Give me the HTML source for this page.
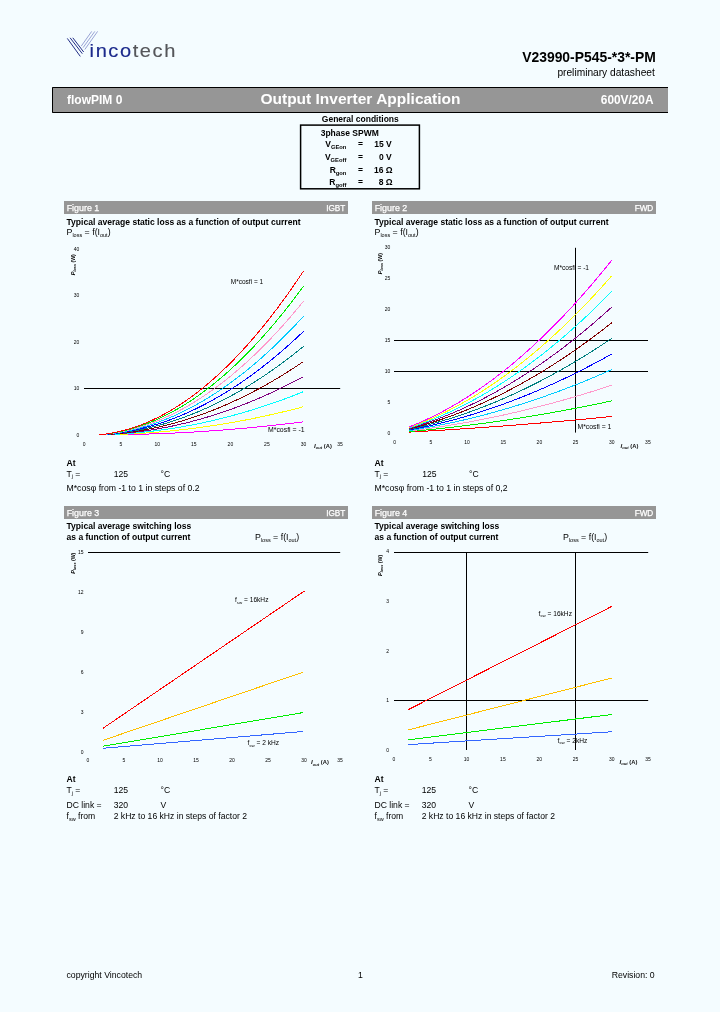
<!DOCTYPE html><html><head><meta charset="utf-8"><title>V23990-P545-*3*-PM</title>
<style>html,body{margin:0;padding:0;background:#f4fcff;}body{width:720px;height:1012px;overflow:hidden;position:relative;font-family:"Liberation Sans",sans-serif;}svg{position:absolute;left:0;top:0;will-change:transform;font-family:"Liberation Sans",sans-serif;}text{white-space:pre;}</style></head><body>
<svg width="720" height="1012" viewBox="0 0 720 1012">
<rect x="0" y="0" width="720" height="1012" fill="#f4fcff"/>
<g id="logo">
<g stroke="#17237f" stroke-width="0.95" fill="none" stroke-linecap="butt">
<line x1="67.3" y1="38.4" x2="80.3" y2="56.4"/>
<line x1="70.1" y1="37.8" x2="82.3" y2="53.7"/>
<line x1="72.8" y1="37.8" x2="83.7" y2="52.0"/>
</g>
<g stroke="#5a67b8" stroke-width="0.6" fill="none" stroke-linecap="butt">
<line x1="81.2" y1="46.2" x2="91.7" y2="31.4"/>
<line x1="83.1" y1="47.6" x2="94.8" y2="31.4"/>
<line x1="84.8" y1="49.5" x2="97.6" y2="31.4"/>
</g>
<text transform="translate(89.6,57.3) scale(1.1,1)" font-size="18.2" letter-spacing="1.45" stroke-width="0.15" paint-order="stroke"><tspan fill="#1c2a8c" stroke="#1c2a8c">inco</tspan><tspan fill="#55565a" stroke="#55565a">tech</tspan></text>
</g>
<text x="655.8" y="62.1" font-size="13.9" font-weight="bold" text-anchor="end" fill="#000" >V23990-P545-*3*-PM</text>
<text x="654.8" y="76.0" font-size="10.2" font-weight="normal" text-anchor="end" fill="#000" >preliminary datasheet</text>
<rect x="52" y="87" width="616" height="26" fill="#969696"/>
<path d="M668,87.5 H52.5 V112.5 H668" fill="none" stroke="#000" stroke-width="1"/>
<text x="67" y="103.8" font-size="12" font-weight="bold" text-anchor="start" fill="#fff" >flowPIM 0</text>
<text x="360.5" y="104.4" font-size="15.5" font-weight="bold" text-anchor="middle" fill="#fff" >Output Inverter Application</text>
<text x="653.5" y="103.7" font-size="11.85" font-weight="bold" text-anchor="end" fill="#fff" >600V/20A</text>
<text x="360.3" y="121.7" font-size="8.5" font-weight="bold" text-anchor="middle" fill="#000" >General conditions</text>
<rect x="300.6" y="125.1" width="118.8" height="63.7" fill="none" stroke="#000" stroke-width="1.5"/>
<text x="320.7" y="135.7" font-size="8.5" font-weight="bold" text-anchor="start" fill="#000" >3phase SPWM</text>
<text x="346.4" y="147.0" font-size="8.5" font-weight="bold" text-anchor="end" fill="#000" >V<tspan font-size="5.8" dy="2.2">GEon</tspan></text>
<text x="360.5" y="147.0" font-size="8.5" font-weight="bold" text-anchor="middle" fill="#000" >=</text>
<text x="391.8" y="147.0" font-size="8.5" font-weight="bold" text-anchor="end" fill="#000" >15 V</text>
<text x="346.4" y="159.5" font-size="8.5" font-weight="bold" text-anchor="end" fill="#000" >V<tspan font-size="5.8" dy="2.2">GEoff</tspan></text>
<text x="360.5" y="159.5" font-size="8.5" font-weight="bold" text-anchor="middle" fill="#000" >=</text>
<text x="391.8" y="159.5" font-size="8.5" font-weight="bold" text-anchor="end" fill="#000" >0 V</text>
<text x="346.4" y="172.6" font-size="8.5" font-weight="bold" text-anchor="end" fill="#000" >R<tspan font-size="5.8" dy="2.2">gon</tspan></text>
<text x="360.5" y="172.6" font-size="8.5" font-weight="bold" text-anchor="middle" fill="#000" >=</text>
<text x="392.6" y="172.6" font-size="8.5" font-weight="bold" text-anchor="end" fill="#000" >16 Ω</text>
<text x="346.4" y="184.5" font-size="8.5" font-weight="bold" text-anchor="end" fill="#000" >R<tspan font-size="5.8" dy="2.2">goff</tspan></text>
<text x="360.5" y="184.5" font-size="8.5" font-weight="bold" text-anchor="middle" fill="#000" >=</text>
<text x="392.6" y="184.5" font-size="8.5" font-weight="bold" text-anchor="end" fill="#000" >8 Ω</text>
<rect x="64" y="201" width="284" height="13" fill="#969696"/>
<text x="66.7" y="211.0" font-size="8.9" font-weight="normal" text-anchor="start" fill="#fff" stroke="#fff" stroke-width="0.25">Figure 1</text>
<text x="345.3" y="211.0" font-size="8.2" font-weight="normal" text-anchor="end" fill="#fff" stroke="#fff" stroke-width="0.25">IGBT</text>
<text x="66.5" y="224.5" font-size="8.55" font-weight="bold" text-anchor="start" fill="#000" >Typical average static loss as a function of output current</text>
<text x="66.5" y="235.2" font-size="8.8" font-weight="normal" text-anchor="start" fill="#000" >P<tspan font-size="5.5" dy="1.6">loss</tspan><tspan dy="-1.6"> = f(I</tspan><tspan font-size="5.5" dy="1.6">out</tspan><tspan dy="-1.6">)</tspan></text>
<line x1="84.0" y1="388.5" x2="340.2" y2="388.5" stroke="#000" stroke-width="1.0"/>
<polyline points="98.82,434.80 102.47,434.80 106.13,434.78 109.78,434.76 113.44,434.73 117.09,434.70 120.75,434.65 124.41,434.60 128.06,434.53 131.72,434.46 135.37,434.38 139.03,434.30 142.68,434.20 146.34,434.10 149.99,433.99 153.64,433.87 157.30,433.74 160.95,433.60 164.61,433.46 168.26,433.30 171.92,433.14 175.57,432.97 179.23,432.79 182.88,432.60 186.54,432.41 190.19,432.21 193.85,431.99 197.50,431.77 201.16,431.55 204.81,431.31 208.47,431.06 212.12,430.81 215.78,430.55 219.44,430.28 223.09,430.00 226.75,429.72 230.40,429.42 234.06,429.12 237.71,428.81 241.37,428.49 245.02,428.16 248.68,427.82 252.33,427.48 255.99,427.13 259.64,426.77 263.30,426.40 266.95,426.02 270.61,425.63 274.26,425.24 277.92,424.84 281.57,424.42 285.22,424.01 288.88,423.58 292.53,423.14 296.19,422.70 299.84,422.25 303.50,421.79" fill="none" stroke="#ff00ff" stroke-width="1.0" stroke-linejoin="round" shape-rendering="crispEdges"/>
<polyline points="98.82,434.80 102.47,434.76 106.13,434.70 109.78,434.63 113.44,434.54 117.09,434.43 120.75,434.30 124.41,434.16 128.06,434.00 131.72,433.83 135.37,433.64 139.03,433.43 142.68,433.20 146.34,432.96 149.99,432.70 153.64,432.43 157.30,432.14 160.95,431.83 164.61,431.50 168.26,431.16 171.92,430.80 175.57,430.42 179.23,430.03 182.88,429.62 186.54,429.20 190.19,428.75 193.85,428.29 197.50,427.82 201.16,427.32 204.81,426.81 208.47,426.29 212.12,425.74 215.78,425.18 219.44,424.61 223.09,424.01 226.75,423.40 230.40,422.78 234.06,422.13 237.71,421.47 241.37,420.79 245.02,420.10 248.68,419.39 252.33,418.66 255.99,417.92 259.64,417.16 263.30,416.38 266.95,415.58 270.61,414.77 274.26,413.95 277.92,413.10 281.57,412.24 285.22,411.36 288.88,410.47 292.53,409.55 296.19,408.63 299.84,407.68 303.50,406.72" fill="none" stroke="#ffff00" stroke-width="1.0" stroke-linejoin="round" shape-rendering="crispEdges"/>
<polyline points="98.82,434.80 102.47,434.72 106.13,434.62 109.78,434.49 113.44,434.34 117.09,434.16 120.75,433.96 124.41,433.73 128.06,433.47 131.72,433.19 135.37,432.89 139.03,432.56 142.68,432.20 146.34,431.82 149.99,431.42 153.64,430.99 157.30,430.53 160.95,430.05 164.61,429.55 168.26,429.02 171.92,428.46 175.57,427.88 179.23,427.27 182.88,426.64 186.54,425.98 190.19,425.30 193.85,424.59 197.50,423.86 201.16,423.10 204.81,422.32 208.47,421.51 212.12,420.68 215.78,419.82 219.44,418.93 223.09,418.02 226.75,417.09 230.40,416.13 234.06,415.15 237.71,414.14 241.37,413.10 245.02,412.04 248.68,410.96 252.33,409.84 255.99,408.71 259.64,407.55 263.30,406.36 266.95,405.15 270.61,403.91 274.26,402.65 277.92,401.37 281.57,400.05 285.22,398.72 288.88,397.35 292.53,395.97 296.19,394.55 299.84,393.11 303.50,391.65" fill="none" stroke="#00ffff" stroke-width="1.0" stroke-linejoin="round" shape-rendering="crispEdges"/>
<polyline points="98.82,434.80 102.47,434.69 106.13,434.54 109.78,434.36 113.44,434.14 117.09,433.89 120.75,433.61 124.41,433.29 128.06,432.94 131.72,432.56 135.37,432.14 139.03,431.69 142.68,431.21 146.34,430.69 149.99,430.14 153.64,429.55 157.30,428.93 160.95,428.28 164.61,427.59 168.26,426.87 171.92,426.12 175.57,425.33 179.23,424.51 182.88,423.66 186.54,422.77 190.19,421.85 193.85,420.89 197.50,419.90 201.16,418.88 204.81,417.82 208.47,416.73 212.12,415.61 215.78,414.45 219.44,413.26 223.09,412.04 226.75,410.78 230.40,409.49 234.06,408.16 237.71,406.80 241.37,405.41 245.02,403.98 248.68,402.52 252.33,401.03 255.99,399.50 259.64,397.94 263.30,396.34 266.95,394.72 270.61,393.05 274.26,391.36 277.92,389.63 281.57,387.87 285.22,386.07 288.88,384.24 292.53,382.38 296.19,380.48 299.84,378.55 303.50,376.58" fill="none" stroke="#800080" stroke-width="1.0" stroke-linejoin="round" shape-rendering="crispEdges"/>
<polyline points="98.82,434.80 102.47,434.65 106.13,434.46 109.78,434.22 113.44,433.94 117.09,433.62 120.75,433.26 124.41,432.86 128.06,432.41 131.72,431.92 135.37,431.39 139.03,430.82 142.68,430.21 146.34,429.55 149.99,428.85 153.64,428.11 157.30,427.33 160.95,426.51 164.61,425.64 168.26,424.73 171.92,423.78 175.57,422.79 179.23,421.75 182.88,420.67 186.54,419.55 190.19,418.39 193.85,417.19 197.50,415.94 201.16,414.66 204.81,413.33 208.47,411.95 212.12,410.54 215.78,409.08 219.44,407.59 223.09,406.05 226.75,404.46 230.40,402.84 234.06,401.17 237.71,399.47 241.37,397.71 245.02,395.92 248.68,394.09 252.33,392.21 255.99,390.29 259.64,388.33 263.30,386.33 266.95,384.28 270.61,382.20 274.26,380.07 277.92,377.89 281.57,375.68 285.22,373.43 288.88,371.13 292.53,368.79 296.19,366.41 299.84,363.98 303.50,361.52" fill="none" stroke="#800000" stroke-width="1.0" stroke-linejoin="round" shape-rendering="crispEdges"/>
<polyline points="98.82,434.80 102.47,434.61 106.13,434.37 109.78,434.08 113.44,433.74 117.09,433.35 120.75,432.91 124.41,432.42 128.06,431.88 131.72,431.29 135.37,430.65 139.03,429.95 142.68,429.21 146.34,428.41 149.99,427.57 153.64,426.67 157.30,425.73 160.95,424.73 164.61,423.68 168.26,422.59 171.92,421.44 175.57,420.24 179.23,418.99 182.88,417.69 186.54,416.34 190.19,414.94 193.85,413.49 197.50,411.99 201.16,410.43 204.81,408.83 208.47,407.18 212.12,405.47 215.78,403.72 219.44,401.91 223.09,400.06 226.75,398.15 230.40,396.20 234.06,394.19 237.71,392.13 241.37,390.02 245.02,387.86 248.68,385.65 252.33,383.39 255.99,381.08 259.64,378.72 263.30,376.31 266.95,373.85 270.61,371.34 274.26,368.77 277.92,366.16 281.57,363.50 285.22,360.78 288.88,358.02 292.53,355.20 296.19,352.33 299.84,349.42 303.50,346.45" fill="none" stroke="#008080" stroke-width="1.0" stroke-linejoin="round" shape-rendering="crispEdges"/>
<polyline points="98.82,434.80 102.47,434.58 106.13,434.29 109.78,433.95 113.44,433.55 117.09,433.09 120.75,432.57 124.41,431.99 128.06,431.35 131.72,430.65 135.37,429.90 139.03,429.08 142.68,428.21 146.34,427.28 149.99,426.29 153.64,425.24 157.30,424.13 160.95,422.96 164.61,421.73 168.26,420.44 171.92,419.10 175.57,417.69 179.23,416.23 182.88,414.71 186.54,413.13 190.19,411.49 193.85,409.79 197.50,408.03 201.16,406.21 204.81,404.33 208.47,402.40 212.12,400.41 215.78,398.35 219.44,396.24 223.09,394.07 226.75,391.84 230.40,389.55 234.06,387.20 237.71,384.79 241.37,382.33 245.02,379.80 248.68,377.22 252.33,374.58 255.99,371.87 259.64,369.11 263.30,366.29 266.95,363.41 270.61,360.48 274.26,357.48 277.92,354.42 281.57,351.31 285.22,348.14 288.88,344.90 292.53,341.61 296.19,338.26 299.84,334.85 303.50,331.38" fill="none" stroke="#0000ff" stroke-width="1.0" stroke-linejoin="round" shape-rendering="crispEdges"/>
<polyline points="98.82,434.80 102.47,434.54 106.13,434.21 109.78,433.81 113.44,433.35 117.09,432.82 120.75,432.22 124.41,431.55 128.06,430.82 131.72,430.02 135.37,429.15 139.03,428.21 142.68,427.21 146.34,426.14 149.99,425.00 153.64,423.80 157.30,422.52 160.95,421.18 164.61,419.78 168.26,418.30 171.92,416.76 175.57,415.15 179.23,413.47 182.88,411.72 186.54,409.91 190.19,408.03 193.85,406.09 197.50,404.07 201.16,401.99 204.81,399.84 208.47,397.62 212.12,395.34 215.78,392.99 219.44,390.57 223.09,388.08 226.75,385.53 230.40,382.90 234.06,380.22 237.71,377.46 241.37,374.64 245.02,371.74 248.68,368.79 252.33,365.76 255.99,362.67 259.64,359.50 263.30,356.28 266.95,352.98 270.61,349.62 274.26,346.19 277.92,342.69 281.57,339.12 285.22,335.49 288.88,331.79 292.53,328.02 296.19,324.19 299.84,320.28 303.50,316.31" fill="none" stroke="#00ccff" stroke-width="1.0" stroke-linejoin="round" shape-rendering="crispEdges"/>
<polyline points="98.82,434.80 102.47,434.50 106.13,434.13 109.78,433.68 113.44,433.15 117.09,432.55 120.75,431.87 124.41,431.12 128.06,430.29 131.72,429.38 135.37,428.40 139.03,427.35 142.68,426.21 146.34,425.00 149.99,423.72 153.64,422.36 157.30,420.92 160.95,419.41 164.61,417.82 168.26,416.16 171.92,414.42 175.57,412.60 179.23,410.71 182.88,408.74 186.54,406.70 190.19,404.58 193.85,402.38 197.50,400.11 201.16,397.77 204.81,395.34 208.47,392.84 212.12,390.27 215.78,387.62 219.44,384.89 223.09,382.09 226.75,379.21 230.40,376.26 234.06,373.23 237.71,370.12 241.37,366.94 245.02,363.68 248.68,360.35 252.33,356.94 255.99,353.46 259.64,349.90 263.30,346.26 266.95,342.55 270.61,338.76 274.26,334.89 277.92,330.95 281.57,326.94 285.22,322.85 288.88,318.68 292.53,314.43 296.19,310.11 299.84,305.72 303.50,301.25" fill="none" stroke="#ff99cc" stroke-width="1.0" stroke-linejoin="round" shape-rendering="crispEdges"/>
<polyline points="98.82,434.80 102.47,434.46 106.13,434.05 109.78,433.54 113.44,432.95 117.09,432.28 120.75,431.52 124.41,430.68 128.06,429.76 131.72,428.75 135.37,427.65 139.03,426.48 142.68,425.21 146.34,423.87 149.99,422.44 153.64,420.92 157.30,419.32 160.95,417.64 164.61,415.87 168.26,414.01 171.92,412.08 175.57,410.06 179.23,407.95 182.88,405.76 186.54,403.48 190.19,401.13 193.85,398.68 197.50,396.16 201.16,393.54 204.81,390.85 208.47,388.07 212.12,385.20 215.78,382.25 219.44,379.22 223.09,376.10 226.75,372.90 230.40,369.61 234.06,366.24 237.71,362.79 241.37,359.25 245.02,355.63 248.68,351.92 252.33,348.13 255.99,344.25 259.64,340.29 263.30,336.24 266.95,332.11 270.61,327.90 274.26,323.60 277.92,319.22 281.57,314.75 285.22,310.20 288.88,305.56 292.53,300.85 296.19,296.04 299.84,291.15 303.50,286.18" fill="none" stroke="#00ee00" stroke-width="1.0" stroke-linejoin="round" shape-rendering="crispEdges"/>
<polyline points="98.82,434.80 102.47,434.43 106.13,433.96 109.78,433.41 113.44,432.76 117.09,432.01 120.75,431.18 124.41,430.25 128.06,429.23 131.72,428.11 135.37,426.91 139.03,425.61 142.68,424.21 146.34,422.73 149.99,421.15 153.64,419.48 157.30,417.72 160.95,415.86 164.61,413.91 168.26,411.87 171.92,409.74 175.57,407.51 179.23,405.19 182.88,402.78 186.54,400.27 190.19,397.67 193.85,394.98 197.50,392.20 201.16,389.32 204.81,386.35 208.47,383.29 212.12,380.13 215.78,376.89 219.44,373.55 223.09,370.11 226.75,366.59 230.40,362.97 234.06,359.26 237.71,355.45 241.37,351.56 245.02,347.57 248.68,343.48 252.33,339.31 255.99,335.04 259.64,330.68 263.30,326.23 266.95,321.68 270.61,317.04 274.26,312.31 277.92,307.48 281.57,302.57 285.22,297.56 288.88,292.45 292.53,287.26 296.19,281.97 299.84,276.59 303.50,271.11" fill="none" stroke="#ff0000" stroke-width="1.0" stroke-linejoin="round" shape-rendering="crispEdges"/>
<text x="79.4" y="436.6" font-size="5.0" font-weight="normal" text-anchor="end" fill="#000" >0</text>
<text x="79.4" y="390.1" font-size="5.0" font-weight="normal" text-anchor="end" fill="#000" >10</text>
<text x="79.4" y="343.6" font-size="5.0" font-weight="normal" text-anchor="end" fill="#000" >20</text>
<text x="79.4" y="297.1" font-size="5.0" font-weight="normal" text-anchor="end" fill="#000" >30</text>
<text x="79.4" y="250.6" font-size="5.0" font-weight="normal" text-anchor="end" fill="#000" >40</text>
<text x="84.2" y="446.0" font-size="5.0" font-weight="normal" text-anchor="middle" fill="#000" >0</text>
<text x="120.8" y="446.0" font-size="5.0" font-weight="normal" text-anchor="middle" fill="#000" >5</text>
<text x="157.3" y="446.0" font-size="5.0" font-weight="normal" text-anchor="middle" fill="#000" >10</text>
<text x="193.8" y="446.0" font-size="5.0" font-weight="normal" text-anchor="middle" fill="#000" >15</text>
<text x="230.4" y="446.0" font-size="5.0" font-weight="normal" text-anchor="middle" fill="#000" >20</text>
<text x="266.9" y="446.0" font-size="5.0" font-weight="normal" text-anchor="middle" fill="#000" >25</text>
<text x="303.5" y="446.0" font-size="5.0" font-weight="normal" text-anchor="middle" fill="#000" >30</text>
<text x="340.1" y="446.0" font-size="5.0" font-weight="normal" text-anchor="middle" fill="#000" >35</text>
<text transform="translate(74.8,275.3) rotate(-90)" font-size="5.6" font-style="italic" font-weight="bold" fill="#000">P<tspan font-size="3.8" dy="1.1">loss</tspan><tspan dy="-1.1" font-style="normal" font-size="5.2"> (W)</tspan></text>
<text x="314.0" y="447.6" font-size="6.2" font-style="italic" font-weight="bold" fill="#111">I<tspan font-size="4.2" dy="1.2">out</tspan><tspan dy="-1.2" font-style="normal" font-size="5.8"> (A)</tspan></text>
<text x="230.8" y="283.8" font-size="6.5" font-weight="normal" text-anchor="start" fill="#000" >M*cosfi = 1</text>
<text x="268" y="432.4" font-size="6.9" font-weight="normal" text-anchor="start" fill="#000" >M*cosfi = -1</text>
<text x="66.5" y="465.6" font-size="8.6" font-weight="bold" text-anchor="start" fill="#000" >At</text>
<text x="66.5" y="476.8" font-size="8.6" font-weight="normal" text-anchor="start" fill="#000" >T<tspan font-size="5.5" dy="1.6">j</tspan><tspan dy="-1.6"> =</tspan></text>
<text x="113.7" y="476.8" font-size="8.6" font-weight="normal" text-anchor="start" fill="#000" >125</text>
<text x="160.5" y="476.8" font-size="8.6" font-weight="normal" text-anchor="start" fill="#000" >°C</text>
<text x="66.5" y="490.9" font-size="8.7" font-weight="normal" text-anchor="start" fill="#000" >M*cosφ from -1 to 1 in steps of 0.2</text>
<rect x="372" y="201" width="284" height="13" fill="#969696"/>
<text x="374.7" y="211.0" font-size="8.9" font-weight="normal" text-anchor="start" fill="#fff" stroke="#fff" stroke-width="0.25">Figure 2</text>
<text x="653.3" y="211.0" font-size="8.2" font-weight="normal" text-anchor="end" fill="#fff" stroke="#fff" stroke-width="0.25">FWD</text>
<text x="374.5" y="224.5" font-size="8.55" font-weight="bold" text-anchor="start" fill="#000" >Typical average static loss as a function of output current</text>
<text x="374.5" y="235.2" font-size="8.8" font-weight="normal" text-anchor="start" fill="#000" >P<tspan font-size="5.5" dy="1.6">loss</tspan><tspan dy="-1.6"> = f(I</tspan><tspan font-size="5.5" dy="1.6">out</tspan><tspan dy="-1.6">)</tspan></text>
<line x1="394.0" y1="340.5" x2="648.0" y2="340.5" stroke="#000" stroke-width="1.0"/>
<line x1="394.0" y1="371.5" x2="648.0" y2="371.5" stroke="#000" stroke-width="1.0"/>
<line x1="575.5" y1="247.8" x2="575.5" y2="432.6" stroke="#000" stroke-width="1.0"/>
<polyline points="409.17,432.08 412.78,431.88 416.40,431.68 420.02,431.48 423.64,431.27 427.25,431.06 430.87,430.85 434.49,430.63 438.10,430.41 441.72,430.19 445.34,429.97 448.95,429.74 452.57,429.51 456.19,429.28 459.81,429.04 463.42,428.80 467.04,428.56 470.66,428.31 474.27,428.06 477.89,427.81 481.51,427.56 485.12,427.30 488.74,427.04 492.36,426.78 495.98,426.52 499.59,426.25 503.21,425.98 506.83,425.70 510.44,425.42 514.06,425.14 517.68,424.86 521.29,424.58 524.91,424.29 528.53,423.99 532.15,423.70 535.76,423.40 539.38,423.10 543.00,422.80 546.61,422.49 550.23,422.18 553.85,421.87 557.46,421.56 561.08,421.24 564.70,420.92 568.32,420.59 571.93,420.27 575.55,419.94 579.17,419.60 582.78,419.27 586.40,418.93 590.02,418.59 593.63,418.25 597.25,417.90 600.87,417.55 604.49,417.20 608.10,416.84 611.72,416.48" fill="none" stroke="#ff0000" stroke-width="1.0" stroke-linejoin="round" shape-rendering="crispEdges"/>
<polyline points="409.17,431.56 412.78,431.24 416.40,430.91 420.02,430.57 423.64,430.23 427.25,429.87 430.87,429.51 434.49,429.14 438.10,428.76 441.72,428.37 445.34,427.98 448.95,427.57 452.57,427.16 456.19,426.74 459.81,426.31 463.42,425.87 467.04,425.43 470.66,424.97 474.27,424.51 477.89,424.04 481.51,423.56 485.12,423.08 488.74,422.58 492.36,422.08 495.98,421.57 499.59,421.05 503.21,420.52 506.83,419.98 510.44,419.44 514.06,418.89 517.68,418.33 521.29,417.76 524.91,417.18 528.53,416.60 532.15,416.00 535.76,415.40 539.38,414.79 543.00,414.17 546.61,413.55 550.23,412.91 553.85,412.27 557.46,411.62 561.08,410.96 564.70,410.29 568.32,409.61 571.93,408.93 575.55,408.24 579.17,407.53 582.78,406.83 586.40,406.11 590.02,405.38 593.63,404.65 597.25,403.91 600.87,403.16 604.49,402.40 608.10,401.63 611.72,400.86" fill="none" stroke="#00ee00" stroke-width="1.0" stroke-linejoin="round" shape-rendering="crispEdges"/>
<polyline points="409.17,431.05 412.78,430.60 416.40,430.14 420.02,429.67 423.64,429.19 427.25,428.69 430.87,428.17 434.49,427.65 438.10,427.11 441.72,426.55 445.34,425.99 448.95,425.40 452.57,424.81 456.19,424.20 459.81,423.58 463.42,422.95 467.04,422.30 470.66,421.64 474.27,420.96 477.89,420.27 481.51,419.57 485.12,418.85 488.74,418.12 492.36,417.38 495.98,416.62 499.59,415.85 503.21,415.07 506.83,414.27 510.44,413.46 514.06,412.63 517.68,411.79 521.29,410.94 524.91,410.08 528.53,409.20 532.15,408.30 535.76,407.40 539.38,406.48 543.00,405.54 546.61,404.60 550.23,403.64 553.85,402.66 557.46,401.68 561.08,400.67 564.70,399.66 568.32,398.63 571.93,397.59 575.55,396.53 579.17,395.46 582.78,394.38 586.40,393.29 590.02,392.18 593.63,391.05 597.25,389.92 600.87,388.77 604.49,387.60 608.10,386.42 611.72,385.23" fill="none" stroke="#ff99cc" stroke-width="1.0" stroke-linejoin="round" shape-rendering="crispEdges"/>
<polyline points="409.17,430.53 412.78,429.96 416.40,429.37 420.02,428.77 423.64,428.14 427.25,427.50 430.87,426.84 434.49,426.15 438.10,425.45 441.72,424.73 445.34,424.00 448.95,423.24 452.57,422.46 456.19,421.67 459.81,420.85 463.42,420.02 467.04,419.17 470.66,418.30 474.27,417.41 477.89,416.50 481.51,415.57 485.12,414.63 488.74,413.66 492.36,412.68 495.98,411.67 499.59,410.65 503.21,409.61 506.83,408.55 510.44,407.47 514.06,406.38 517.68,405.26 521.29,404.13 524.91,402.97 528.53,401.80 532.15,400.61 535.76,399.40 539.38,398.17 543.00,396.92 546.61,395.65 550.23,394.36 553.85,393.06 557.46,391.74 561.08,390.39 564.70,389.03 568.32,387.65 571.93,386.25 575.55,384.83 579.17,383.39 582.78,381.94 586.40,380.46 590.02,378.97 593.63,377.46 597.25,375.92 600.87,374.37 604.49,372.80 608.10,371.22 611.72,369.61" fill="none" stroke="#00ccff" stroke-width="1.0" stroke-linejoin="round" shape-rendering="crispEdges"/>
<polyline points="409.17,430.01 412.78,429.32 416.40,428.60 420.02,427.86 423.64,427.10 427.25,426.31 430.87,425.50 434.49,424.66 438.10,423.80 441.72,422.91 445.34,422.00 448.95,421.07 452.57,420.11 456.19,419.13 459.81,418.12 463.42,417.09 467.04,416.04 470.66,414.96 474.27,413.86 477.89,412.73 481.51,411.58 485.12,410.40 488.74,409.20 492.36,407.98 495.98,406.73 499.59,405.45 503.21,404.16 506.83,402.84 510.44,401.49 514.06,400.12 517.68,398.73 521.29,397.31 524.91,395.87 528.53,394.40 532.15,392.91 535.76,391.39 539.38,389.85 543.00,388.29 546.61,386.70 550.23,385.09 553.85,383.46 557.46,381.79 561.08,380.11 564.70,378.40 568.32,376.67 571.93,374.91 575.55,373.13 579.17,371.32 582.78,369.49 586.40,367.64 590.02,365.76 593.63,363.86 597.25,361.93 600.87,359.98 604.49,358.01 608.10,356.01 611.72,353.98" fill="none" stroke="#0000ff" stroke-width="1.0" stroke-linejoin="round" shape-rendering="crispEdges"/>
<polyline points="409.17,429.49 412.78,428.68 416.40,427.83 420.02,426.96 423.64,426.06 427.25,425.12 430.87,424.16 434.49,423.17 438.10,422.15 441.72,421.09 445.34,420.01 448.95,418.90 452.57,417.76 456.19,416.59 459.81,415.40 463.42,414.17 467.04,412.91 470.66,411.62 474.27,410.30 477.89,408.96 481.51,407.58 485.12,406.17 488.74,404.74 492.36,403.27 495.98,401.78 499.59,400.26 503.21,398.70 506.83,397.12 510.44,395.51 514.06,393.87 517.68,392.19 521.29,390.49 524.91,388.76 528.53,387.00 532.15,385.21 535.76,383.39 539.38,381.54 543.00,379.66 546.61,377.76 550.23,375.82 553.85,373.85 557.46,371.85 561.08,369.83 564.70,367.77 568.32,365.69 571.93,363.57 575.55,361.43 579.17,359.25 582.78,357.05 586.40,354.82 590.02,352.55 593.63,350.26 597.25,347.94 600.87,345.59 604.49,343.21 608.10,340.80 611.72,338.36" fill="none" stroke="#008080" stroke-width="1.0" stroke-linejoin="round" shape-rendering="crispEdges"/>
<polyline points="409.17,428.97 412.78,428.04 416.40,427.06 420.02,426.05 423.64,425.01 427.25,423.93 430.87,422.82 434.49,421.67 438.10,420.49 441.72,419.28 445.34,418.02 448.95,416.74 452.57,415.41 456.19,414.06 459.81,412.67 463.42,411.24 467.04,409.78 470.66,408.28 474.27,406.75 477.89,405.19 481.51,403.59 485.12,401.95 488.74,400.28 492.36,398.57 495.98,396.83 499.59,395.06 503.21,393.25 506.83,391.40 510.44,389.52 514.06,387.61 517.68,385.66 521.29,383.68 524.91,381.66 528.53,379.60 532.15,377.51 535.76,375.39 539.38,373.23 543.00,371.04 546.61,368.81 550.23,366.55 553.85,364.25 557.46,361.91 561.08,359.55 564.70,357.14 568.32,354.71 571.93,352.23 575.55,349.73 579.17,347.18 582.78,344.61 586.40,341.99 590.02,339.35 593.63,336.67 597.25,333.95 600.87,331.20 604.49,328.41 608.10,325.59 611.72,322.73" fill="none" stroke="#800000" stroke-width="1.0" stroke-linejoin="round" shape-rendering="crispEdges"/>
<polyline points="409.17,428.46 412.78,427.39 416.40,426.29 420.02,425.15 423.64,423.97 427.25,422.75 430.87,421.48 434.49,420.18 438.10,418.84 441.72,417.46 445.34,416.03 448.95,414.57 452.57,413.07 456.19,411.52 459.81,409.94 463.42,408.31 467.04,406.65 470.66,404.94 474.27,403.20 477.89,401.41 481.51,399.59 485.12,397.72 488.74,395.82 492.36,393.87 495.98,391.89 499.59,389.86 503.21,387.79 506.83,385.69 510.44,383.54 514.06,381.35 517.68,379.13 521.29,376.86 524.91,374.55 528.53,372.20 532.15,369.82 535.76,367.39 539.38,364.92 543.00,362.41 546.61,359.86 550.23,357.27 553.85,354.64 557.46,351.97 561.08,349.26 564.70,346.51 568.32,343.72 571.93,340.89 575.55,338.02 579.17,335.11 582.78,332.16 586.40,329.17 590.02,326.14 593.63,323.07 597.25,319.96 600.87,316.81 604.49,313.61 608.10,310.38 611.72,307.11" fill="none" stroke="#800080" stroke-width="1.0" stroke-linejoin="round" shape-rendering="crispEdges"/>
<polyline points="409.17,427.94 412.78,426.75 416.40,425.52 420.02,424.25 423.64,422.93 427.25,421.56 430.87,420.15 434.49,418.69 438.10,417.19 441.72,415.64 445.34,414.04 448.95,412.40 452.57,410.72 456.19,408.99 459.81,407.21 463.42,405.39 467.04,403.52 470.66,401.61 474.27,399.65 477.89,397.64 481.51,395.59 485.12,393.50 488.74,391.36 492.36,389.17 495.98,386.94 499.59,384.66 503.21,382.34 506.83,379.97 510.44,377.56 514.06,375.10 517.68,372.59 521.29,370.04 524.91,367.45 528.53,364.80 532.15,362.12 535.76,359.39 539.38,356.61 543.00,353.78 546.61,350.91 550.23,348.00 553.85,345.04 557.46,342.03 561.08,338.98 564.70,335.89 568.32,332.74 571.93,329.56 575.55,326.32 579.17,323.04 582.78,319.72 586.40,316.35 590.02,312.93 593.63,309.47 597.25,305.97 600.87,302.41 604.49,298.82 608.10,295.17 611.72,291.49" fill="none" stroke="#00ffff" stroke-width="1.0" stroke-linejoin="round" shape-rendering="crispEdges"/>
<polyline points="409.17,427.42 412.78,426.11 416.40,424.75 420.02,423.34 423.64,421.88 427.25,420.37 430.87,418.81 434.49,417.20 438.10,415.53 441.72,413.82 445.34,412.05 448.95,410.23 452.57,408.37 456.19,406.45 459.81,404.48 463.42,402.46 467.04,400.39 470.66,398.27 474.27,396.10 477.89,393.87 481.51,391.60 485.12,389.27 488.74,386.90 492.36,384.47 495.98,381.99 499.59,379.46 503.21,376.88 506.83,374.25 510.44,371.57 514.06,368.84 517.68,366.06 521.29,363.23 524.91,360.34 528.53,357.41 532.15,354.42 535.76,351.38 539.38,348.30 543.00,345.16 546.61,341.97 550.23,338.73 553.85,335.44 557.46,332.09 561.08,328.70 564.70,325.26 568.32,321.76 571.93,318.22 575.55,314.62 579.17,310.97 582.78,307.28 586.40,303.53 590.02,299.73 593.63,295.88 597.25,291.97 600.87,288.02 604.49,284.02 608.10,279.97 611.72,275.86" fill="none" stroke="#ffff00" stroke-width="1.0" stroke-linejoin="round" shape-rendering="crispEdges"/>
<polyline points="409.17,426.90 412.78,425.47 416.40,423.98 420.02,422.44 423.64,420.84 427.25,419.18 430.87,417.47 434.49,415.70 438.10,413.88 441.72,412.00 445.34,410.06 448.95,408.07 452.57,406.02 456.19,403.91 459.81,401.75 463.42,399.53 467.04,397.26 470.66,394.93 474.27,392.54 477.89,390.10 481.51,387.60 485.12,385.05 488.74,382.44 492.36,379.77 495.98,377.05 499.59,374.27 503.21,371.43 506.83,368.54 510.44,365.59 514.06,362.59 517.68,359.53 521.29,356.41 524.91,353.24 528.53,350.01 532.15,346.72 535.76,343.38 539.38,339.98 543.00,336.53 546.61,333.02 550.23,329.45 553.85,325.83 557.46,322.15 561.08,318.42 564.70,314.63 568.32,310.78 571.93,306.88 575.55,302.92 579.17,298.90 582.78,294.83 586.40,290.70 590.02,286.52 593.63,282.28 597.25,277.98 600.87,273.63 604.49,269.22 608.10,264.76 611.72,260.24" fill="none" stroke="#ff00ff" stroke-width="1.0" stroke-linejoin="round" shape-rendering="crispEdges"/>
<text x="390.2" y="434.5" font-size="5.0" font-weight="normal" text-anchor="end" fill="#000" >0</text>
<text x="390.2" y="403.6" font-size="5.0" font-weight="normal" text-anchor="end" fill="#000" >5</text>
<text x="390.2" y="372.8" font-size="5.0" font-weight="normal" text-anchor="end" fill="#000" >10</text>
<text x="390.2" y="341.9" font-size="5.0" font-weight="normal" text-anchor="end" fill="#000" >15</text>
<text x="390.2" y="311.1" font-size="5.0" font-weight="normal" text-anchor="end" fill="#000" >20</text>
<text x="390.2" y="280.2" font-size="5.0" font-weight="normal" text-anchor="end" fill="#000" >25</text>
<text x="390.2" y="249.4" font-size="5.0" font-weight="normal" text-anchor="end" fill="#000" >30</text>
<text x="394.7" y="443.5" font-size="5.0" font-weight="normal" text-anchor="middle" fill="#000" >0</text>
<text x="430.9" y="443.5" font-size="5.0" font-weight="normal" text-anchor="middle" fill="#000" >5</text>
<text x="467.0" y="443.5" font-size="5.0" font-weight="normal" text-anchor="middle" fill="#000" >10</text>
<text x="503.2" y="443.5" font-size="5.0" font-weight="normal" text-anchor="middle" fill="#000" >15</text>
<text x="539.4" y="443.5" font-size="5.0" font-weight="normal" text-anchor="middle" fill="#000" >20</text>
<text x="575.5" y="443.5" font-size="5.0" font-weight="normal" text-anchor="middle" fill="#000" >25</text>
<text x="611.7" y="443.5" font-size="5.0" font-weight="normal" text-anchor="middle" fill="#000" >30</text>
<text x="647.9" y="443.5" font-size="5.0" font-weight="normal" text-anchor="middle" fill="#000" >35</text>
<text transform="translate(381.8,274.2) rotate(-90)" font-size="5.6" font-style="italic" font-weight="bold" fill="#000">P<tspan font-size="3.8" dy="1.1">loss</tspan><tspan dy="-1.1" font-style="normal" font-size="5.2"> (W)</tspan></text>
<text x="620.5" y="447.6" font-size="6.2" font-style="italic" font-weight="bold" fill="#111">I<tspan font-size="4.2" dy="1.2">out</tspan><tspan dy="-1.2" font-style="normal" font-size="5.8"> (A)</tspan></text>
<text x="554" y="270.0" font-size="6.6" font-weight="normal" text-anchor="start" fill="#000" >M*cosfi = -1</text>
<text x="577.5" y="428.7" font-size="6.8" font-weight="normal" text-anchor="start" fill="#000" >M*cosfi = 1</text>
<text x="374.5" y="465.6" font-size="8.6" font-weight="bold" text-anchor="start" fill="#000" >At</text>
<text x="374.5" y="476.8" font-size="8.6" font-weight="normal" text-anchor="start" fill="#000" >T<tspan font-size="5.5" dy="1.6">j</tspan><tspan dy="-1.6"> =</tspan></text>
<text x="422.2" y="476.8" font-size="8.6" font-weight="normal" text-anchor="start" fill="#000" >125</text>
<text x="469.0" y="476.8" font-size="8.6" font-weight="normal" text-anchor="start" fill="#000" >°C</text>
<text x="374.5" y="490.9" font-size="8.7" font-weight="normal" text-anchor="start" fill="#000" >M*cosφ from -1 to 1 in steps of 0,2</text>
<rect x="64" y="506" width="284" height="13" fill="#969696"/>
<text x="66.7" y="516.0" font-size="8.9" font-weight="normal" text-anchor="start" fill="#fff" stroke="#fff" stroke-width="0.25">Figure 3</text>
<text x="345.3" y="516.0" font-size="8.2" font-weight="normal" text-anchor="end" fill="#fff" stroke="#fff" stroke-width="0.25">IGBT</text>
<text x="66.5" y="529.2" font-size="8.55" font-weight="bold" text-anchor="start" fill="#000" >Typical average switching loss</text>
<text x="66.5" y="540.0" font-size="8.55" font-weight="bold" text-anchor="start" fill="#000" >as a function of output current</text>
<text x="255" y="540.0" font-size="8.8" font-weight="normal" text-anchor="start" fill="#000" >P<tspan font-size="5.5" dy="1.6">loss</tspan><tspan dy="-1.6"> = f(I</tspan><tspan font-size="5.5" dy="1.6">out</tspan><tspan dy="-1.6">)</tspan></text>
<line x1="88.0" y1="552.5" x2="340.2" y2="552.5" stroke="#000" stroke-width="1.0"/>
<line x1="102.7" y1="728.5" x2="304.4" y2="591.0" stroke="#ff0000" stroke-width="1.0" shape-rendering="crispEdges"/>
<line x1="102.7" y1="740.4" x2="303.0" y2="672.2" stroke="#ffc000" stroke-width="1.0" shape-rendering="crispEdges"/>
<line x1="102.7" y1="746.3" x2="303.0" y2="712.6" stroke="#00ee00" stroke-width="1.0" shape-rendering="crispEdges"/>
<line x1="102.7" y1="748.3" x2="303.5" y2="731.5" stroke="#3366ff" stroke-width="1.0" shape-rendering="crispEdges"/>
<text x="83.5" y="753.5" font-size="5.0" font-weight="normal" text-anchor="end" fill="#000" >0</text>
<text x="83.5" y="713.5" font-size="5.0" font-weight="normal" text-anchor="end" fill="#000" >3</text>
<text x="83.5" y="673.5" font-size="5.0" font-weight="normal" text-anchor="end" fill="#000" >6</text>
<text x="83.5" y="633.5" font-size="5.0" font-weight="normal" text-anchor="end" fill="#000" >9</text>
<text x="83.5" y="593.5" font-size="5.0" font-weight="normal" text-anchor="end" fill="#000" >12</text>
<text x="83.5" y="553.5" font-size="5.0" font-weight="normal" text-anchor="end" fill="#000" >15</text>
<text x="88.0" y="762.3" font-size="5.0" font-weight="normal" text-anchor="middle" fill="#000" >0</text>
<text x="124.0" y="762.3" font-size="5.0" font-weight="normal" text-anchor="middle" fill="#000" >5</text>
<text x="160.0" y="762.3" font-size="5.0" font-weight="normal" text-anchor="middle" fill="#000" >10</text>
<text x="196.0" y="762.3" font-size="5.0" font-weight="normal" text-anchor="middle" fill="#000" >15</text>
<text x="232.0" y="762.3" font-size="5.0" font-weight="normal" text-anchor="middle" fill="#000" >20</text>
<text x="268.0" y="762.3" font-size="5.0" font-weight="normal" text-anchor="middle" fill="#000" >25</text>
<text x="304.0" y="762.3" font-size="5.0" font-weight="normal" text-anchor="middle" fill="#000" >30</text>
<text x="340.0" y="762.3" font-size="5.0" font-weight="normal" text-anchor="middle" fill="#000" >35</text>
<text transform="translate(74.8,573.8) rotate(-90)" font-size="5.6" font-style="italic" font-weight="bold" fill="#000">P<tspan font-size="3.8" dy="1.1">loss</tspan><tspan dy="-1.1" font-style="normal" font-size="5.2"> (W)</tspan></text>
<text x="311.0" y="764.4" font-size="6.2" font-style="italic" font-weight="bold" fill="#111">I<tspan font-size="4.2" dy="1.2">out</tspan><tspan dy="-1.2" font-style="normal" font-size="5.8"> (A)</tspan></text>
<text x="235" y="602.3" font-size="6.6" font-weight="normal" text-anchor="start" fill="#000" >f<tspan font-size="4.4" dy="1.2">sw</tspan><tspan dy="-1.2"> = 16kHz</tspan></text>
<text x="247.5" y="745.4" font-size="6.6" font-weight="normal" text-anchor="start" fill="#000" >f<tspan font-size="4.4" dy="1.2">sw</tspan><tspan dy="-1.2"> = 2 kHz</tspan></text>
<text x="66.5" y="782.4" font-size="8.6" font-weight="bold" text-anchor="start" fill="#000" >At</text>
<text x="66.5" y="793.4" font-size="8.6" font-weight="normal" text-anchor="start" fill="#000" >T<tspan font-size="5.5" dy="1.6">j</tspan><tspan dy="-1.6"> =</tspan></text>
<text x="113.7" y="793.4" font-size="8.6" font-weight="normal" text-anchor="start" fill="#000" >125</text>
<text x="160.5" y="793.4" font-size="8.6" font-weight="normal" text-anchor="start" fill="#000" >°C</text>
<text x="66.5" y="807.8" font-size="8.6" font-weight="normal" text-anchor="start" fill="#000" >DC link =</text>
<text x="113.7" y="807.8" font-size="8.6" font-weight="normal" text-anchor="start" fill="#000" >320</text>
<text x="160.5" y="807.8" font-size="8.6" font-weight="normal" text-anchor="start" fill="#000" >V</text>
<text x="66.5" y="819.4" font-size="8.6" font-weight="normal" text-anchor="start" fill="#000" >f<tspan font-size="5.5" dy="1.6">sw</tspan><tspan dy="-1.6"> from</tspan></text>
<text x="113.7" y="819.4" font-size="8.6" font-weight="normal" text-anchor="start" fill="#000" >2 kHz to 16 kHz in steps of factor 2</text>
<rect x="372" y="506" width="284" height="13" fill="#969696"/>
<text x="374.7" y="516.0" font-size="8.9" font-weight="normal" text-anchor="start" fill="#fff" stroke="#fff" stroke-width="0.25">Figure 4</text>
<text x="653.3" y="516.0" font-size="8.2" font-weight="normal" text-anchor="end" fill="#fff" stroke="#fff" stroke-width="0.25">FWD</text>
<text x="374.5" y="529.2" font-size="8.55" font-weight="bold" text-anchor="start" fill="#000" >Typical average switching loss</text>
<text x="374.5" y="540.0" font-size="8.55" font-weight="bold" text-anchor="start" fill="#000" >as a function of output current</text>
<text x="563" y="540.0" font-size="8.8" font-weight="normal" text-anchor="start" fill="#000" >P<tspan font-size="5.5" dy="1.6">loss</tspan><tspan dy="-1.6"> = f(I</tspan><tspan font-size="5.5" dy="1.6">out</tspan><tspan dy="-1.6">)</tspan></text>
<line x1="394.0" y1="552.5" x2="648.2" y2="552.5" stroke="#000" stroke-width="1.0"/>
<line x1="394.0" y1="700.5" x2="648.2" y2="700.5" stroke="#000" stroke-width="1.0"/>
<line x1="466.5" y1="552.0" x2="466.5" y2="750.0" stroke="#000" stroke-width="1.0"/>
<line x1="575.5" y1="552.0" x2="575.5" y2="750.0" stroke="#000" stroke-width="1.0"/>
<line x1="408.2" y1="709.7" x2="611.6" y2="606.5" stroke="#ff0000" stroke-width="1.0" shape-rendering="crispEdges"/>
<line x1="408.2" y1="729.9" x2="611.6" y2="678.1" stroke="#ffc000" stroke-width="1.0" shape-rendering="crispEdges"/>
<line x1="408.2" y1="739.9" x2="611.6" y2="714.5" stroke="#00ee00" stroke-width="1.0" shape-rendering="crispEdges"/>
<line x1="408.2" y1="744.6" x2="611.6" y2="731.8" stroke="#3366ff" stroke-width="1.0" shape-rendering="crispEdges"/>
<text x="389.0" y="751.8" font-size="5.0" font-weight="normal" text-anchor="end" fill="#000" >0</text>
<text x="389.0" y="702.2" font-size="5.0" font-weight="normal" text-anchor="end" fill="#000" >1</text>
<text x="389.0" y="652.6" font-size="5.0" font-weight="normal" text-anchor="end" fill="#000" >2</text>
<text x="389.0" y="603.0" font-size="5.0" font-weight="normal" text-anchor="end" fill="#000" >3</text>
<text x="389.0" y="553.4" font-size="5.0" font-weight="normal" text-anchor="end" fill="#000" >4</text>
<text x="394.0" y="760.8" font-size="5.0" font-weight="normal" text-anchor="middle" fill="#000" >0</text>
<text x="430.3" y="760.8" font-size="5.0" font-weight="normal" text-anchor="middle" fill="#000" >5</text>
<text x="466.6" y="760.8" font-size="5.0" font-weight="normal" text-anchor="middle" fill="#000" >10</text>
<text x="502.9" y="760.8" font-size="5.0" font-weight="normal" text-anchor="middle" fill="#000" >15</text>
<text x="539.2" y="760.8" font-size="5.0" font-weight="normal" text-anchor="middle" fill="#000" >20</text>
<text x="575.5" y="760.8" font-size="5.0" font-weight="normal" text-anchor="middle" fill="#000" >25</text>
<text x="611.8" y="760.8" font-size="5.0" font-weight="normal" text-anchor="middle" fill="#000" >30</text>
<text x="648.1" y="760.8" font-size="5.0" font-weight="normal" text-anchor="middle" fill="#000" >35</text>
<text transform="translate(382.0,576) rotate(-90)" font-size="5.6" font-style="italic" font-weight="bold" fill="#000">P<tspan font-size="3.8" dy="1.1">loss</tspan><tspan dy="-1.1" font-style="normal" font-size="5.2"> (W)</tspan></text>
<text x="619.5" y="764.0" font-size="6.2" font-style="italic" font-weight="bold" fill="#111">I<tspan font-size="4.2" dy="1.2">out</tspan><tspan dy="-1.2" font-style="normal" font-size="5.8"> (A)</tspan></text>
<text x="538.5" y="616.0" font-size="6.6" font-weight="normal" text-anchor="start" fill="#000" >f<tspan font-size="4.4" dy="1.2">sw</tspan><tspan dy="-1.2"> = 16kHz</tspan></text>
<text x="557.5" y="743.2" font-size="6.6" font-weight="normal" text-anchor="start" fill="#000" >f<tspan font-size="4.4" dy="1.2">sw</tspan><tspan dy="-1.2"> = 2kHz</tspan></text>
<text x="374.5" y="782.4" font-size="8.6" font-weight="bold" text-anchor="start" fill="#000" >At</text>
<text x="374.5" y="793.4" font-size="8.6" font-weight="normal" text-anchor="start" fill="#000" >T<tspan font-size="5.5" dy="1.6">j</tspan><tspan dy="-1.6"> =</tspan></text>
<text x="421.7" y="793.4" font-size="8.6" font-weight="normal" text-anchor="start" fill="#000" >125</text>
<text x="468.5" y="793.4" font-size="8.6" font-weight="normal" text-anchor="start" fill="#000" >°C</text>
<text x="374.5" y="807.8" font-size="8.6" font-weight="normal" text-anchor="start" fill="#000" >DC link =</text>
<text x="421.7" y="807.8" font-size="8.6" font-weight="normal" text-anchor="start" fill="#000" >320</text>
<text x="468.5" y="807.8" font-size="8.6" font-weight="normal" text-anchor="start" fill="#000" >V</text>
<text x="374.5" y="819.4" font-size="8.6" font-weight="normal" text-anchor="start" fill="#000" >f<tspan font-size="5.5" dy="1.6">sw</tspan><tspan dy="-1.6"> from</tspan></text>
<text x="421.7" y="819.4" font-size="8.6" font-weight="normal" text-anchor="start" fill="#000" >2 kHz to 16 kHz in steps of factor 2</text>
<text x="66.5" y="977.7" font-size="8.7" font-weight="normal" text-anchor="start" fill="#000" >copyright Vincotech</text>
<text x="360.3" y="977.7" font-size="8.7" font-weight="normal" text-anchor="middle" fill="#000" >1</text>
<text x="654.7" y="977.7" font-size="8.7" font-weight="normal" text-anchor="end" fill="#000" >Revision: 0</text>
</svg></body></html>
